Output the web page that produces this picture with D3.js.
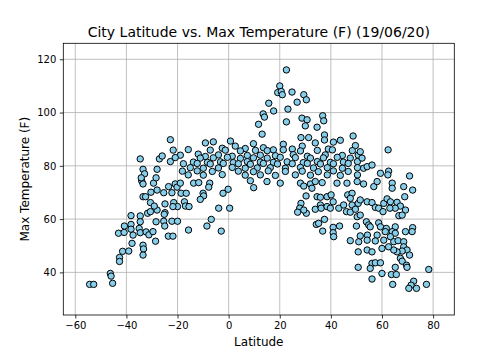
<!DOCTYPE html>
<html>
<head>
<meta charset="utf-8">
<script src="https://cdn.jsdelivr.net/npm/d3@7"></script>
<style>
  body { margin: 0; background: #fff; }
  text { font-family: "DejaVu Sans", sans-serif; fill: #000; }
</style>
</head>
<body>
<svg id="chart" width="504" height="360"></svg>
<script>
// [latitude, max temp F], grouped by area of the plot
const farSouth = [
  [-54.4,35.5],[-52.8,35.5],[-46.3,39.6],[-46.0,38.6],[-45.4,35.9],
  [-42.7,45.6],[-42.7,44.1],[-41.5,47.9],[-39.1,48.0],[-37.8,50.9],[-33.5,50.2],[-33.3,48.8],[-33.5,46.5],
  [-43.1,54.7],[-40.9,55.0],[-40.8,57.4],[-38.2,58.0],[-38.2,56.2],[-37.4,54.0],[-38.2,61.3],
  [-34.6,61.2],[-35.0,56.5],[-34.6,59.0],[-34.6,54.9],[-32.3,55.2],[-31.2,54.1],[-29.6,55.3],[-28.6,51.7],
  [-28.4,59.0],[-31.7,62.2],[-30.6,62.8],[-28.0,63.4],[-30.6,66.2],[-29.1,64.9],
  [-33.5,68.4],[-32.5,68.4],[-30.4,70.1],[-28.0,70.9],[-34.0,74.3],[-33.5,73.2],[-29.4,73.5],
  [-34.6,82.6],[-33.5,78.7],[-32.9,77.0],[-34.2,75.5],[-28.0,78.7],[-28.4,75.5],[-27.1,82.6]
];

const tropicsLow = [
  [-25.4,69.9],[-23.5,72.2],[-20.9,73.2],[-20.2,72.0],[-18.9,73.5],[-22.2,69.9],[-18.6,69.7],[-16.6,69.7],
  [-13.7,73.5],[-11.7,73.7],[-7.4,73.5],[-7.8,72.0],[-10.0,69.7],[-9.8,68.7],[-11.1,67.4],[-2.2,69.7],
  [-0.2,71.2],[8.5,74.4],[9.8,71.8],
  [-24.9,65.7],[-21.5,66.2],[-20.0,64.7],[-21.8,64.7],[-17.3,66.5],[-16.9,64.9],[-15.5,64.7],
  [-24.9,62.4],[-25.2,61.8],[-25.4,59.2],[-25.0,57.4],[-22.2,59.2],[-20.0,59.2],[-23.6,53.6],[-21.8,53.6],
  [-15.7,55.9],[-3.9,64.1],[0.4,64.1],[-6.8,59.9],[-8.5,57.4],[-2.9,55.5]
];

const denseBand = [
  [-22.8,89.8],[-9.1,88.6],[-6.0,89.0],[-2.5,86.6],[0.7,89.3],[2.6,87.4],[6.5,86.5],[9.7,88.3],[13.6,86.8],
  [17.5,86.0],[21.4,88.1],[24.9,86.3],[28.8,87.4],[33.9,88.6],[39.0,86.3],[41.0,88.9],[43.7,89.6],[49.6,87.6],
  [-26.0,83.7],[-21.7,85.9],[-18.9,84.0],[-15.8,86.1],[-11.9,84.4],[-9.1,83.5],[-7.2,85.9],[-4.0,84.1],
  [-1.3,85.9],[1.4,83.6],[4.6,85.6],[7.3,83.9],[10.5,85.8],[12.4,84.0],[15.1,85.7],[18.3,83.8],[21.4,86.0],
  [25.3,84.2],[28.1,85.6],[30.8,83.6],[34.7,85.8],[37.8,84.1],[40.6,86.0],[44.5,83.9],[48.4,85.7],[50.7,84.0],
  [-22.8,81.6],[-20.9,83.1],[-13.8,81.4],[-11.1,82.9],[-8.3,81.3],[-6.0,83.0],[-3.2,81.5],[-0.5,83.2],
  [1.8,81.2],[4.6,82.8],[7.3,81.6],[9.7,83.0],[12.4,81.4],[15.1,82.9],[17.5,81.3],[20.2,83.2],[22.9,81.5],
  [26.1,83.1],[29.2,81.2],[32.0,82.9],[34.7,81.6],[37.1,83.0],[39.8,81.3],[42.5,83.2],[44.9,81.4],[47.6,82.9],
  [50.4,81.6],
  [-17.7,80.8],[-15.0,79.3],[-12.3,80.9],[-9.9,79.1],[-7.2,80.7],[-4.0,79.2],[-2.1,80.9],[1.4,79.4],
  [3.8,80.8],[6.5,79.1],[8.5,80.6],[11.2,79.2],[13.6,80.9],[16.3,79.3],[19.1,80.7],[22.2,79.1],[24.9,80.8],
  [28.1,79.4],[30.8,80.9],[33.2,79.2],[35.9,80.7],[38.6,79.3],[41.0,80.8],[44.5,79.1],[46.8,80.9],[50.4,79.3],
  [-18.1,78.0],[-15.8,76.6],[-12.3,78.1],[-9.9,76.5],[-6.4,77.9],[-2.5,76.7],[3.8,78.0],[6.5,76.5],[9.7,77.8],
  [12.4,76.6],[15.5,78.1],[18.3,76.4],[22.2,77.9],[26.1,76.6],[28.8,78.0],[32.0,76.5],[35.1,77.8],[38.6,76.6],
  [41.0,78.1],[43.7,76.4],[46.8,77.9],[50.4,76.6]
];

const hotNorth = [
  [11.7,95.6],[22.6,116.0],[20.0,110.0],[19.2,107.5],[20.6,107.9],[21.0,106.7],[24.8,107.7],[29.4,106.7],
  [30.4,104.8],[26.8,103.9],[15.7,103.5],[17.6,100.6],[23.2,101.3],[13.5,99.5],[14.0,98.3],[22.6,96.5],
  [28.7,97.9],[30.7,97.3],[30.0,95.0],[36.8,98.8],[37.2,96.9],[34.6,94.5],[13.1,91.9],[48.7,91.2],
  [37.5,91.6],[37.5,89.7],[31.3,90.6],[28.3,90.6]
];

const midNorth = [
  [15.0,74.1],[20.2,73.5],[28.1,73.5],[29.4,72.4],[32.0,73.2],[33.9,74.1],[36.6,73.7],[42.4,73.5],[46.3,73.5],
  [50.3,74.1],[32.6,71.6],[30.3,68.7],[34.6,68.4],[35.9,68.2],[38.5,68.4],[40.1,69.1],[46.6,69.1],[48.3,69.7],
  [47.6,67.8],
  [28.3,65.9],[27.8,64.1],[27.0,62.6],[30.4,62.2],[29.4,63.4],[33.9,63.7],[35.9,65.3],[36.2,64.1],[38.5,64.7],
  [39.8,64.1],[40.9,66.5],[43.1,64.1],[45.0,65.3],[46.1,62.8],[47.6,62.6],[48.3,65.3],[49.6,63.7],[50.3,60.9],
  [50.7,65.9],[37.5,59.9],[34.3,58.0],[35.2,58.4],[36.8,55.5],[40.9,56.9],[43.4,57.4],[40.9,54.9],[41.1,53.4],
  [47.6,51.9],[50.9,51.5],[50.7,47.7],[50.7,41.9],[50.0,57.4]
];

const farNorth = [
  [62.4,86.0],[51.5,85.3],[52.2,82.9],[52.8,79.1],[54.2,79.7],[56.1,80.3],[59.4,77.2],[62.6,78.0],[62.3,76.6],
  [70.8,76.2],
  [52.8,73.2],[56.8,72.2],[58.1,74.1],[64.0,73.5],[64.0,71.6],[68.5,72.2],[72.0,70.9],[68.9,68.4],[51.5,67.2],
  [54.2,66.5],[56.1,66.2],[57.4,64.4],[58.7,64.1],[60.7,65.9],[62.0,67.6],[63.3,66.5],[65.9,66.3],[67.2,64.9],
  [69.2,63.4],[65.2,64.1],[63.1,64.1],[60.4,62.8],[66.6,61.3],[67.9,61.5],[51.5,61.5],[53.9,59.0],[54.8,57.8],
  [55.4,57.1],[58.7,58.6],[59.4,57.1],[61.7,56.5],[65.2,57.1],[64.0,55.3],[65.2,54.7],[69.2,55.3],[72.0,56.8],
  [71.8,55.3],[54.3,54.0],[58.1,54.0],[61.3,55.3],[51.5,53.7],[54.2,52.1],[57.4,51.8],[60.7,52.1],[63.3,53.4],
  [64.6,51.5],[66.3,51.9],[68.5,51.5],[68.5,49.6],[69.8,48.4],[70.8,46.5],[67.9,48.0],[65.9,47.7],[64.6,48.4],
  [62.6,49.6],[60.0,49.0],[54.2,48.4],[56.1,47.7],[67.2,45.3],[67.9,44.2],[69.6,42.7],[69.8,41.9],[65.2,41.9],
  [63.7,39.2],[65.6,39.2],[60.0,39.6],[56.1,43.4],[57.4,43.6],[59.4,43.6],[55.4,41.5],[56.1,37.5],[64.2,35.5],
  [78.3,41.1],[72.4,36.7],[71.4,35.2],[70.5,34.0],[73.5,34.0],[77.4,35.5]
];

const xTicks = [-60, -40, -20, 0, 20, 40, 60, 80];
const yTicks = [40, 60, 80, 100, 120];

const cities = [...farSouth, ...tropicsLow, ...denseBand, ...hotNorth, ...midNorth, ...farNorth];

const margin = { top: 43.3, right: 49.7, bottom: 45, left: 63.3 };
const width = 504, height = 360;

const svg = d3.select('#chart');

const x = d3.scaleLinear().domain([-64.7, 88.3]).range([margin.left, width - margin.right]);
const y = d3.scaleLinear().domain([24, 126]).range([height - margin.bottom, margin.top]);

// grid
svg.append('g')
  .selectAll('line')
  .data(xTicks)
  .join('line')
  .attr('x1', (d) => x(d)).attr('x2', (d) => x(d))
  .attr('y1', margin.top).attr('y2', height - margin.bottom)
  .attr('stroke', '#b0b0b0').attr('stroke-width', 0.8);

svg.append('g')
  .selectAll('line')
  .data(yTicks)
  .join('line')
  .attr('y1', (d) => y(d)).attr('y2', (d) => y(d))
  .attr('x1', margin.left).attr('x2', width - margin.right)
  .attr('stroke', '#b0b0b0').attr('stroke-width', 0.8);

// points
svg.append('g')
  .selectAll('circle')
  .data(cities)
  .join('circle')
  .attr('cx', (d) => x(d[0]))
  .attr('cy', (d) => y(d[1]))
  .attr('r', 3.2)
  .attr('fill', '#87ceeb')
  .attr('stroke', '#000')
  .attr('stroke-width', 1);

// axes
const fmt = (d) => (d < 0 ? '\u2212' + Math.abs(d) : String(d));

const xAxis = svg.append('g')
  .attr('transform', `translate(0,${height - margin.bottom})`)
  .call(d3.axisBottom(x).tickValues(xTicks).tickFormat(fmt).tickSize(3.5).tickPadding(3.5));

const yAxis = svg.append('g')
  .attr('transform', `translate(${margin.left},0)`)
  .call(d3.axisLeft(y).tickValues(yTicks).tickFormat(fmt).tickSize(3.5).tickPadding(3.5));

[xAxis, yAxis].forEach((g) => {
  g.select('.domain').remove();
  g.selectAll('.tick line').attr('stroke', '#000').attr('stroke-width', 0.8);
  g.selectAll('.tick text').attr('font-size', 10).attr('font-family', 'DejaVu Sans').attr('fill', '#000');
});

// frame
svg.append('rect')
  .attr('x', margin.left).attr('y', margin.top)
  .attr('width', width - margin.left - margin.right)
  .attr('height', height - margin.top - margin.bottom)
  .attr('fill', 'none').attr('stroke', '#000').attr('stroke-width', 0.8);

svg.append('text')
  .attr('x', (margin.left + width - margin.right) / 2)
  .attr('y', 37)
  .attr('text-anchor', 'middle')
  .attr('font-size', 14)
  .text('City Latitude vs. Max Temperature (F) (19/06/20)');

svg.append('text')
  .attr('x', (margin.left + width - margin.right) / 2)
  .attr('y', 346)
  .attr('text-anchor', 'middle')
  .attr('font-size', 12)
  .text('Latitude');

svg.append('text')
  .attr('transform', `translate(29,${(margin.top + height - margin.bottom) / 2}) rotate(-90)`)
  .attr('text-anchor', 'middle')
  .attr('font-size', 12)
  .text('Max Temperature (F)');
</script>
</body>
</html>
